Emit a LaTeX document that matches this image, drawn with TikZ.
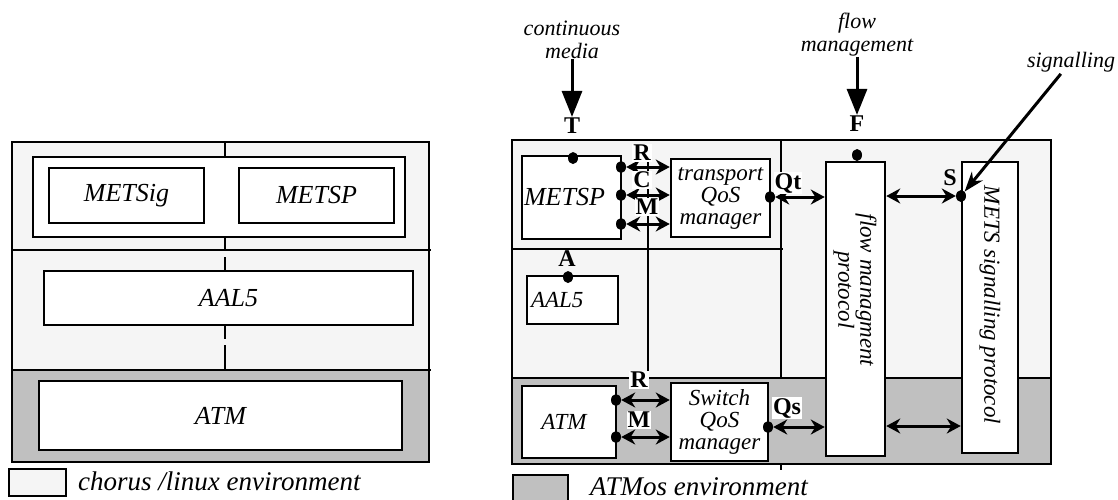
\documentclass[tikz,border=0pt]{standalone}
\usepackage{fontspec}
\setmainfont{Liberation Serif}
\usetikzlibrary{arrows.meta,shapes.geometric}
\definecolor{envlight}{HTML}{F5F5F5}
\definecolor{envgray}{HTML}{C0C0C0}
\begin{document}
\begin{tikzpicture}[x=1pt,y=-1pt,
  box/.style={draw, fill=white, line width=2.5pt, inner sep=0pt, align=center,
    font=\itshape\fontsize{26}{28}\selectfont},
  smallbox/.style={box, font=\itshape\fontsize{23}{22}\selectfont},
  lbl/.style={fill=white, inner sep=1pt, font=\bfseries\fontsize{24}{24}\selectfont},
  note/.style={align=center, inner sep=0pt, font=\itshape\fontsize{22}{23}\selectfont},
  legend/.style={anchor=base west, inner sep=0pt, font=\itshape\fontsize{27}{27}\selectfont},
  dotmark/.style={ellipse, fill=black, inner sep=0pt, minimum width=10pt, minimum height=12pt},
  link/.style={line width=3pt, {Stealth[length=14pt,width=15pt]}-{Stealth[length=14pt,width=15pt]}},
  feed/.style={line width=3pt, -{Triangle[length=26pt,width=20pt]}},
  frame/.style={line width=2.5pt},
]
\useasboundingbox (0,0) rectangle (1118,499);

% ---------- left: layered view ----------
\fill[envlight] (12,142) rectangle (429,370);
\fill[envgray] (12,370) rectangle (429,462);
\draw[frame] (12,142) rectangle (429,462);
\draw[frame] (12,250) -- (431,250);
\draw[frame] (12,370) -- (431,370);
\draw[frame] (225,142) -- (225,157);
\draw[frame] (225,237) -- (225,250);
\draw[frame] (225,257) -- (225,271);
\draw[frame] (225,325) -- (225,339);
\draw[frame] (225,345) -- (225,370);

\node[box, minimum width=372pt, minimum height=80pt] (lmets) at (219,197) {};
\node[box, minimum width=155pt, minimum height=55pt] (lsig) at (126.5,195.5) {METSig};
\node[box, minimum width=155pt, minimum height=55pt] (lsp) at (316.5,195.5) {METSP};
\node[box, minimum width=369pt, minimum height=54pt] (laal) at (228.5,298) {AAL5};
\node[box, minimum width=363pt, minimum height=69pt] (latm) at (220.5,415.5) {ATM};

\node[draw, fill=envlight, line width=2.5pt, minimum width=57pt, minimum height=27pt, inner sep=0pt] (keylight) at (37.5,482.5) {};
\node[legend] (keylighttext) at (78,490) {chorus /linux environment};

% ---------- right: component view ----------
\fill[envlight] (512,140) rectangle (1051,378);
\fill[envgray] (512,378) rectangle (1051,464);
\draw[frame] (512,140) rectangle (1051,464);
\draw[frame] (512,378) -- (1051,378);
\draw[frame] (512,249) -- (783,249);
\draw[frame] (781,140) -- (781,378);
\draw[frame] (781,464) -- (781,470);
\draw[frame] (648,160) -- (648,378);

\node[box, minimum width=99pt, minimum height=83pt] (rsp) at (571.5,197.5) {METSP\hspace*{14pt}};
\node[smallbox, minimum width=99pt, minimum height=78pt] (tq) at (720.5,198) {transport\\QoS\\manager};
\node[smallbox, minimum width=91pt, minimum height=48pt, text width=83pt, align=left] (raal) at (572.5,300) {AAL5};
\node[smallbox, minimum width=94pt, minimum height=72pt] (ratm) at (569,422) {ATM\hspace*{10pt}};
\node[smallbox, minimum width=97pt, minimum height=78pt] (sq) at (719.5,422) {Switch\\QoS\\manager};
\node[box, minimum width=59pt, minimum height=294pt] (flow) at (855.5,309) {};
\node[smallbox, draw=none, fill=none, rotate=-90] (flowtext) at (855,290) {flow managment\\protocol};
\node[box, minimum width=56pt, minimum height=291pt] (sig) at (990,307.5) {};
\node[smallbox, draw=none, fill=none, rotate=-90] (sigtext) at (990,305) {METS signalling protocol};

% access points
\node[dotmark] (dT) at (573,158) {};
\node[dotmark] (dR1) at (621,167) {};
\node[dotmark] (dC) at (621,195) {};
\node[dotmark] (dM1) at (621,224) {};
\node[dotmark] (dQt) at (770,197) {};
\node[dotmark] (dF) at (857,155) {};
\node[dotmark] (dS) at (961,196) {};
\node[dotmark] (dA) at (568,277) {};
\node[dotmark] (dR2) at (616,400) {};
\node[dotmark] (dM2) at (616,437) {};
\node[dotmark] (dQs) at (768,427) {};

% interfaces between components
\draw[link] (dR1) -- (tq.west |- dR1);
\draw[link] (dC) -- (tq.west |- dC);
\draw[link] (dM1) -- (tq.west |- dM1);
\draw[link] (dQt) -- (flow.west |- dQt);
\draw[link] (flow.east |- dS) -- (dS);
\coordinate (lowlink) at (920,426);
\draw[link] (flow.east |- lowlink) -- (sig.west |- lowlink);
\draw[link] (dR2) -- (sq.west |- dR2);
\draw[link] (dM2) -- (sq.west |- dM2);
\draw[link] (dQs) -- (flow.west |- dQs);

% external inputs
\node[note] (cm) at (572,40) {continuous\\media};
\node[lbl] (lT) at (572,126) {T};
\draw[feed] (cm.south) -- (lT.north);
\node[note] (fm) at (857,35) {flow\\management};
\node[lbl] (lF) at (857,124) {F};
\draw[feed] (fm.south) -- (lF.north);
\node[note, anchor=base] (sg) at (1071,67) {signalling};
\draw[line width=3pt, -{Stealth[length=20pt,width=14pt]}] (sg.south west) ++(34,2) -- (dS);

% interface labels
\node[lbl] (lR1) at (642,153) {R};
\node[lbl] (lC) at (642,180) {C};
\node[lbl] (lM1) at (647,207) {M};
\node[lbl] (lQt) at (788,183) {Qt};
\node[lbl, fill=none] (lS) at (950,178) {S};
\node[lbl, fill=none] (lA) at (567,259) {A};
\node[lbl] (lR2) at (639,380) {R};
\node[lbl] (lM2) at (639,420) {M};
\node[lbl] (lQs) at (787,408) {Qs};

\node[draw, fill=envgray, line width=2.5pt, minimum width=55pt, minimum height=30pt, inner sep=0pt] (keygray) at (540.5,490) {};
\node[legend] (keygraytext) at (590,495) {ATMos environment};
\end{tikzpicture}
\end{document}
